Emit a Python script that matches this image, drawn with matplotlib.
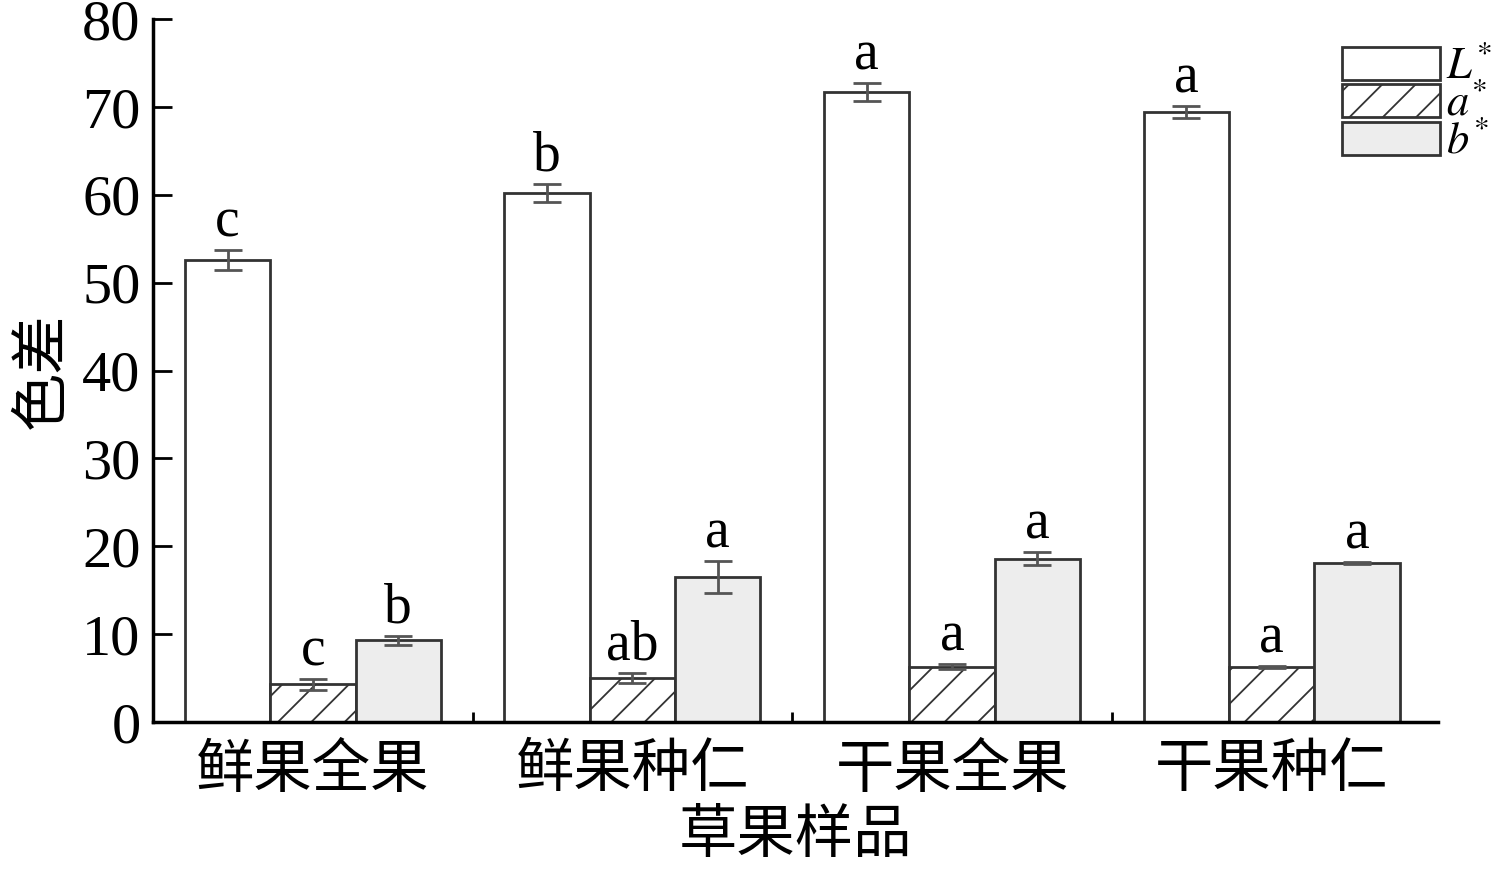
import numpy as np
import matplotlib
matplotlib.use("Agg")
import matplotlib.pyplot as plt
from matplotlib.patches import Rectangle

plt.rcParams['font.family'] = ['Liberation Serif', 'Noto Sans CJK SC']
plt.rcParams['mathtext.fontset'] = 'stix'
plt.rcParams['hatch.linewidth'] = 1.3

samples = ['鲜果全果', '鲜果种仁', '干果全果', '干果种仁']
series = ['$L^{*}$', '$a^{*}$', '$b^{*}$']
L_vals = [52.6, 60.2, 71.7, 69.4]
L_err = [1.1, 1.0, 1.0, 0.7]
a_vals = [4.3, 5.0, 6.3, 6.3]
a_err = [0.6, 0.6, 0.3, 0.1]
b_vals = [9.3, 16.5, 18.6, 18.1]
b_err = [0.5, 1.8, 0.7, 0.1]
L_sig = ['c', 'b', 'a', 'a']
a_sig = ['c', 'ab', 'a', 'a']
b_sig = ['b', 'a', 'a', 'a']

fig = plt.figure(figsize=(14.96, 8.71), dpi=100)
ax = fig.add_axes([0.1023, 0.171, 0.8589, 0.807])

x = np.arange(len(samples))
w = 0.267
styles = [
    dict(facecolor='white', hatch=None),
    dict(facecolor='white', hatch='/'),
    dict(facecolor='#ededed', hatch=None),
]
vals = [L_vals, a_vals, b_vals]
errs = [L_err, a_err, b_err]
sigs = [L_sig, a_sig, b_sig]

for i in range(3):
    pos = x + (i - 1) * w
    ax.bar(pos, vals[i], w, edgecolor='#333333', linewidth=2, zorder=2,
           **styles[i])
    ax.errorbar(pos, vals[i], yerr=errs[i], fmt='none', ecolor='#555555',
                elinewidth=2, capsize=10, capthick=2, zorder=3)
    for p, v, e, s in zip(pos, vals[i], errs[i], sigs[i]):
        ax.text(p, v + e + 0.2, s, ha='center', va='bottom', fontsize=40)

ax.set_xlim(-0.5, 3.52)
ax.set_ylim(0, 80)
ax.set_yticks(range(0, 81, 10))
ax.set_xticks(x)
ax.set_xticklabels(samples, fontsize=42)
ax.set_xticks(x[:-1] + 0.5, minor=True)
ax.tick_params(axis='y', direction='in', length=14, width=2, labelsize=42, pad=9)
ax.tick_params(axis='x', which='both', direction='in', length=7, width=2, pad=16)
for s in ['top', 'right']:
    ax.spines[s].set_visible(False)
for s in ['left', 'bottom']:
    ax.spines[s].set_linewidth(2.5)

ax.set_ylabel('色差', fontsize=42, labelpad=8)
ax.set_xlabel('草果样品', fontsize=42, labelpad=8)

# legend drawn by hand so the rows can sit as tight as in the original
rows_top = [47, 84, 122]
for i in range(3):
    y0 = 1 - (rows_top[i] + 33) / 871
    fig.patches.append(Rectangle((1342 / 1496, y0), 98 / 1496, 33 / 871,
                                 transform=fig.transFigure, edgecolor='#333333',
                                 linewidth=2, **styles[i]))
    fig.text(1446 / 1496, y0 + 14 / 871, series[i], fontsize=32,
             ha='left', va='center')

fig.savefig('out.png', dpi=100)
